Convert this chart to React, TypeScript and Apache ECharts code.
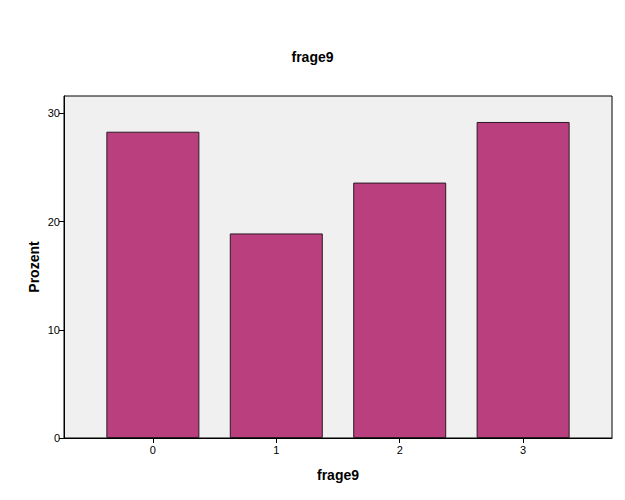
import React, { useEffect, useRef } from "react";
import * as echarts from "echarts";

const categories = ["0", "1", "2", "3"];
const percentValues = [28.3, 18.9, 23.6, 29.2];
const yTicks = [0, 10, 20, 30];
const chartTitle = "frage9";
const xAxisTitle = "frage9";
const yAxisTitle = "Prozent";

export default function App() {
  const ref = useRef<HTMLDivElement>(null);
  useEffect(() => {
    if (!ref.current) return;
    const chart = echarts.init(ref.current, undefined, { renderer: "svg" });
    const font = "Liberation Sans, Arial, sans-serif";
    const xPositions = categories.map((_, i) => i);
    chart.setOption({
      animation: false,
      backgroundColor: "#ffffff",
      textStyle: { fontFamily: font },
      title: {
        text: chartTitle,
        left: "center",
        top: 45,
        textStyle: { fontFamily: font, fontSize: 14, fontWeight: "bold", color: "#000" },
      },
      grid: {
        left: 64,
        right: 13,
        top: 96,
        bottom: 62,
        show: true,
        backgroundColor: "#F0F0F0",
        borderColor: "#000",
        borderWidth: 1,
      },
      xAxis: {
        type: "value",
        min: -0.72,
        max: 3.72,
        name: xAxisTitle,
        nameLocation: "middle",
        nameGap: 30,
        nameMoveOverlap: false,
        nameTextStyle: { fontFamily: font, fontSize: 14, fontWeight: "bold", color: "#000" },
        axisLine: { show: true, onZero: false, lineStyle: { color: "#000", width: 1 } },
        axisTick: { show: true, length: 5, lineStyle: { color: "#000" }, customValues: xPositions },
        axisLabel: {
          color: "#000",
          fontSize: 11,
          margin: 6,
          customValues: xPositions,
          formatter: (v: number) => categories[Math.round(v)] ?? "",
        },
        splitLine: { show: false },
      },
      yAxis: {
        type: "value",
        min: 0,
        max: 31.6,
        name: yAxisTitle,
        nameLocation: "middle",
        nameGap: 23,
        nameMoveOverlap: false,
        nameRotate: 90,
        nameTextStyle: { fontFamily: font, fontSize: 14, fontWeight: "bold", color: "#000" },
        axisLine: { show: true, onZero: false, lineStyle: { color: "#000", width: 1 } },
        axisTick: { show: true, length: 5, lineStyle: { color: "#000" }, customValues: yTicks },
        axisLabel: { color: "#000", fontSize: 11, margin: 4, customValues: yTicks },
        splitLine: { show: false },
      },
      series: [
        {
          type: "bar",
          data: percentValues.map((v, i) => [i, v]),
          barWidth: 93,
          itemStyle: { color: "#BA3F7E", borderColor: "#2a1a22", borderWidth: 1 },
        },
      ],
    });
    return () => chart.dispose();
  }, []);
  return (
    <div
      ref={ref}
      style={{ position: "absolute", left: 0, top: 0, width: 625, height: 500 }}
    />
  );
}
